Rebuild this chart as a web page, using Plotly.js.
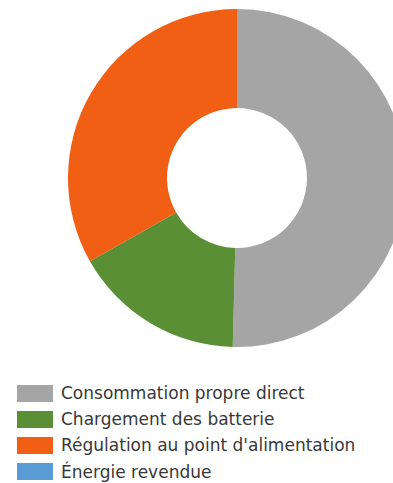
<!DOCTYPE html>
<html>
<head>
<meta charset="utf-8">
<script src="https://cdn.plot.ly/plotly-3.0.1.min.js"></script>
<style>
html,body{margin:0;padding:0;width:393px;height:483px;overflow:hidden;background:#fff;}
#chart{width:474px;height:483px;}
</style>
</head>
<body>
<div id="chart"></div>
<script>
const labels = ["Consommation propre direct", "Chargement des batterie", "Régulation au point d'alimentation", "Énergie revendue"];
const values = [50.4, 16.4, 33.2, 0];
const colors = ["#A5A5A5", "#5A8F35", "#F05F14", "#5B9BD5"];

const W = 474, H = 483;
const shapes = [];
const annotations = [];
labels.forEach((lab, i) => {
  const top = 385 + i * 26;
  shapes.push({
    type: "rect", xref: "paper", yref: "paper",
    x0: 17 / W, x1: 53 / W, y0: 1 - (top + 17) / H, y1: 1 - top / H,
    fillcolor: colors[i], line: {width: 0}
  });
  annotations.push({
    xref: "paper", yref: "paper", x: 59 / W, y: 1 - (top + 8) / H,
    xanchor: "left", yanchor: "middle", showarrow: false,
    text: lab, font: {family: "DejaVu Sans", size: 17, color: "#383838"}
  });
});

Plotly.newPlot("chart", [{
  type: "pie",
  labels: labels,
  values: values,
  marker: {colors: colors, line: {width: 0}},
  hole: 0.414,
  sort: false,
  direction: "clockwise",
  rotation: 0,
  textinfo: "none",
  hoverinfo: "none",
  showlegend: false,
  domain: {x: [0, 1], y: [(H - 347) / H, (H - 9) / H]}
}], {
  width: W, height: H,
  margin: {l: 0, r: 0, t: 0, b: 0},
  paper_bgcolor: "#ffffff",
  showlegend: false,
  shapes: shapes,
  annotations: annotations
}, {staticPlot: true, displayModeBar: false});
</script>
</body>
</html>
